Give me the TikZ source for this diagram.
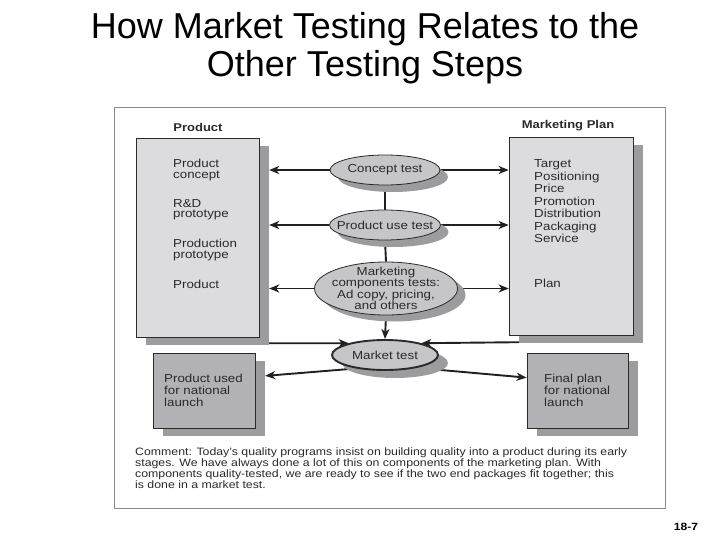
\documentclass[tikz,border=0pt]{standalone}
\usepackage{fontspec}
\setmainfont[FakeStretch=1.15]{Liberation Sans}
\newfontfamily\titlefont{Liberation Sans}
\usetikzlibrary{arrows.meta,shapes.geometric,calc}
\pgfdeclarelayer{background}
\pgfdeclarelayer{paper}
\pgfsetlayers{paper,background,main}
\definecolor{boxfill}{HTML}{DCDCDE}
\definecolor{boxfilldark}{HTML}{B2B2B6}
\definecolor{shade}{HTML}{9C9C9E}
\definecolor{ellfill}{HTML}{C6C6C8}
\definecolor{ink}{HTML}{2A2A2A}
\definecolor{lineink}{HTML}{202020}
\definecolor{framecol}{HTML}{8A8A8A}
\begin{document}
\begin{tikzpicture}[x=1pt,y=-1pt,
  bigbox/.style={rectangle, draw=ink, line width=0.7pt, fill=boxfill, inner sep=0pt},
  smallbox/.style={rectangle, draw=ink, line width=0.7pt, fill=boxfilldark, inner sep=0pt},
  shadowbox/.style={rectangle, fill=shade, inner sep=0pt},
  ell/.style={ellipse, draw=ink, line width=0.8pt, fill=ellfill, inner sep=0pt},
  ellshadow/.style={ellipse, fill=shade, inner sep=0pt},
  lbl/.style={text=ink, font=\fontsize{11.6}{10}\selectfont, align=center, inner sep=0pt},
  body/.style={text=ink, anchor=west, align=left, inner sep=0pt},
  heading/.style={text=ink, inner sep=0pt, font=\bfseries\fontsize{11.3}{12}\selectfont},
  arr/.style={draw=lineink, line width=1.9pt, -{Stealth[length=10pt,width=8pt,inset=3pt]}},
  conn/.style={draw=lineink, line width=1.9pt}]
\useasboundingbox (0,0) rectangle (720,540);
\begin{pgfonlayer}{paper}
  \fill[white] (0,0) rectangle (720,540);
\end{pgfonlayer}

% title
\node[font=\titlefont\fontsize{36}{38}\selectfont, align=center, anchor=north, inner sep=0pt] (title) at (365,12)
  {How Market Testing Relates to the\\Other Testing Steps};

% frame
\node[draw=framecol, line width=0.8pt, minimum width=551, minimum height=401, inner sep=0pt] (frame) at (389.5,307.5) {};

% headings
\node[heading] (hprod) at (198,127) {Product};
\node[heading] (hplan) at (568,126) {Marketing Plan};

% big boxes with shadows
\node[shadowbox, minimum width=123, minimum height=199] (lboxsh) at (207.5,245.5) {};
\node[bigbox, minimum width=123, minimum height=199] (lbox) at (197.5,237.5) {};
\node[shadowbox, minimum width=124, minimum height=198] (rboxsh) at (581,244) {};
\node[bigbox, minimum width=124, minimum height=198] (rbox) at (571,236) {};

% bottom boxes with shadows
\node[shadowbox, minimum width=102, minimum height=75] (blboxsh) at (214,398.5) {};
\node[smallbox, minimum width=102, minimum height=75] (blbox) at (204,390.5) {};
\node[shadowbox, minimum width=101, minimum height=75] (brboxsh) at (587.5,398.5) {};
\node[smallbox, minimum width=101, minimum height=75] (brbox) at (577.5,390.5) {};

% left box text
\node[body, font=\fontsize{11.6}{10.2}\selectfont] (t1) at (173,170) {Product\\concept};
\node[body, font=\fontsize{11.6}{10.2}\selectfont] (t2) at (173,210) {R\&D\\prototype};
\node[body, font=\fontsize{11.6}{10.2}\selectfont] (t3) at (173,250) {Production\\prototype};
\node[body, font=\fontsize{11.6}{10.2}\selectfont] (t4) at (173,284) {Product};

% right box text
\node[body, font=\fontsize{11.6}{12.5}\selectfont] (r1) at (534,201.5)
  {Target\\Positioning\\Price\\Promotion\\Distribution\\Packaging\\Service};
\node[body, font=\fontsize{11.6}{12.5}\selectfont] (r2) at (534,283) {Plan};

% bottom box text
\node[body, font=\fontsize{11.6}{12}\selectfont] (b1) at (164,390) {Product used\\for national\\launch};
\node[body, font=\fontsize{11.6}{12}\selectfont] (b2) at (544,390) {Final plan\\for national\\launch};

% ellipse shadows
\node[ellshadow, minimum width=110, minimum height=30] (ctsh) at (393,177) {};
\node[ellshadow, minimum width=111, minimum height=30] (push) at (393,232) {};
\node[ellshadow, minimum width=143, minimum height=53] (mcsh) at (394,295) {};
\node[ellshadow, minimum width=106, minimum height=30] (mtsh) at (395,363) {};

% ellipses
\node[ell, minimum width=110, minimum height=30, label={[lbl, name=ctl]center:Concept test}] (ct) at (385,170) {};
\node[ell, minimum width=111, minimum height=30, label={[lbl, name=pul]center:Product use test}] (pu) at (385,225) {};
\node[ell, minimum width=143, minimum height=53,
  label={[lbl, font=\fontsize{11.6}{9.8}\selectfont, name=mcl]center:Marketing\\components tests:\\Ad copy, pricing,\\and others}] (mc) at (386,288.5) {};
\node[ell, line width=1.9pt, minimum width=106, minimum height=30, label={[lbl, name=mtl]center:Market test}] (mt) at (385,355) {};

% connectors
\begin{pgfonlayer}{background}
  \draw[arr] (ct.west) -- (ct.west -| lboxsh.east);
  \draw[arr] (ct.east) -- (ct.east -| rbox.west);
  \draw[arr] (pu.west) -- (pu.west -| lboxsh.east);
  \draw[arr] (pu.east) -- (pu.east -| rbox.west);
  \draw[arr] (mc.west) -- (mc.west -| lboxsh.east);
  \draw[arr] (mc.east) -- (mc.east -| rbox.west);
  \draw[conn] (ct.south) -- (pu.north);
  \draw[conn] (pu.south) -- (mc.north);
  \draw[arr] (mc.south) -- (mt.north);
  \draw[arr] ($(lboxsh.south east)+(0,-2)$) -- (mt.162);
  \draw[arr] ($(rboxsh.south west)+(0,-1)$) -- (mt.18);
  \draw[arr] (mt.205) -- ($(blboxsh.north east)!0.2!(blboxsh.south east)$);
  \draw[arr] (mt.-22) -- ($(brbox.north west)!0.33!(brbox.south west)$);
\end{pgfonlayer}

% comment
\node[body, font=\fontsize{10.7}{9.7}\selectfont] (comment) at (135,468.5)
  {Comment: Today's quality programs insist on building quality into a product during its early\\
   stages. We have always done a lot of this on components of the marketing plan. With\\
   components quality-tested, we are ready to see if the two end packages fit together; this\\
   is done in a market test.};

% page number
\node[font=\bfseries\fontsize{10.5}{12}\selectfont, inner sep=0pt] (pagenum) at (686,527) {18-7};
\end{tikzpicture}
\end{document}
